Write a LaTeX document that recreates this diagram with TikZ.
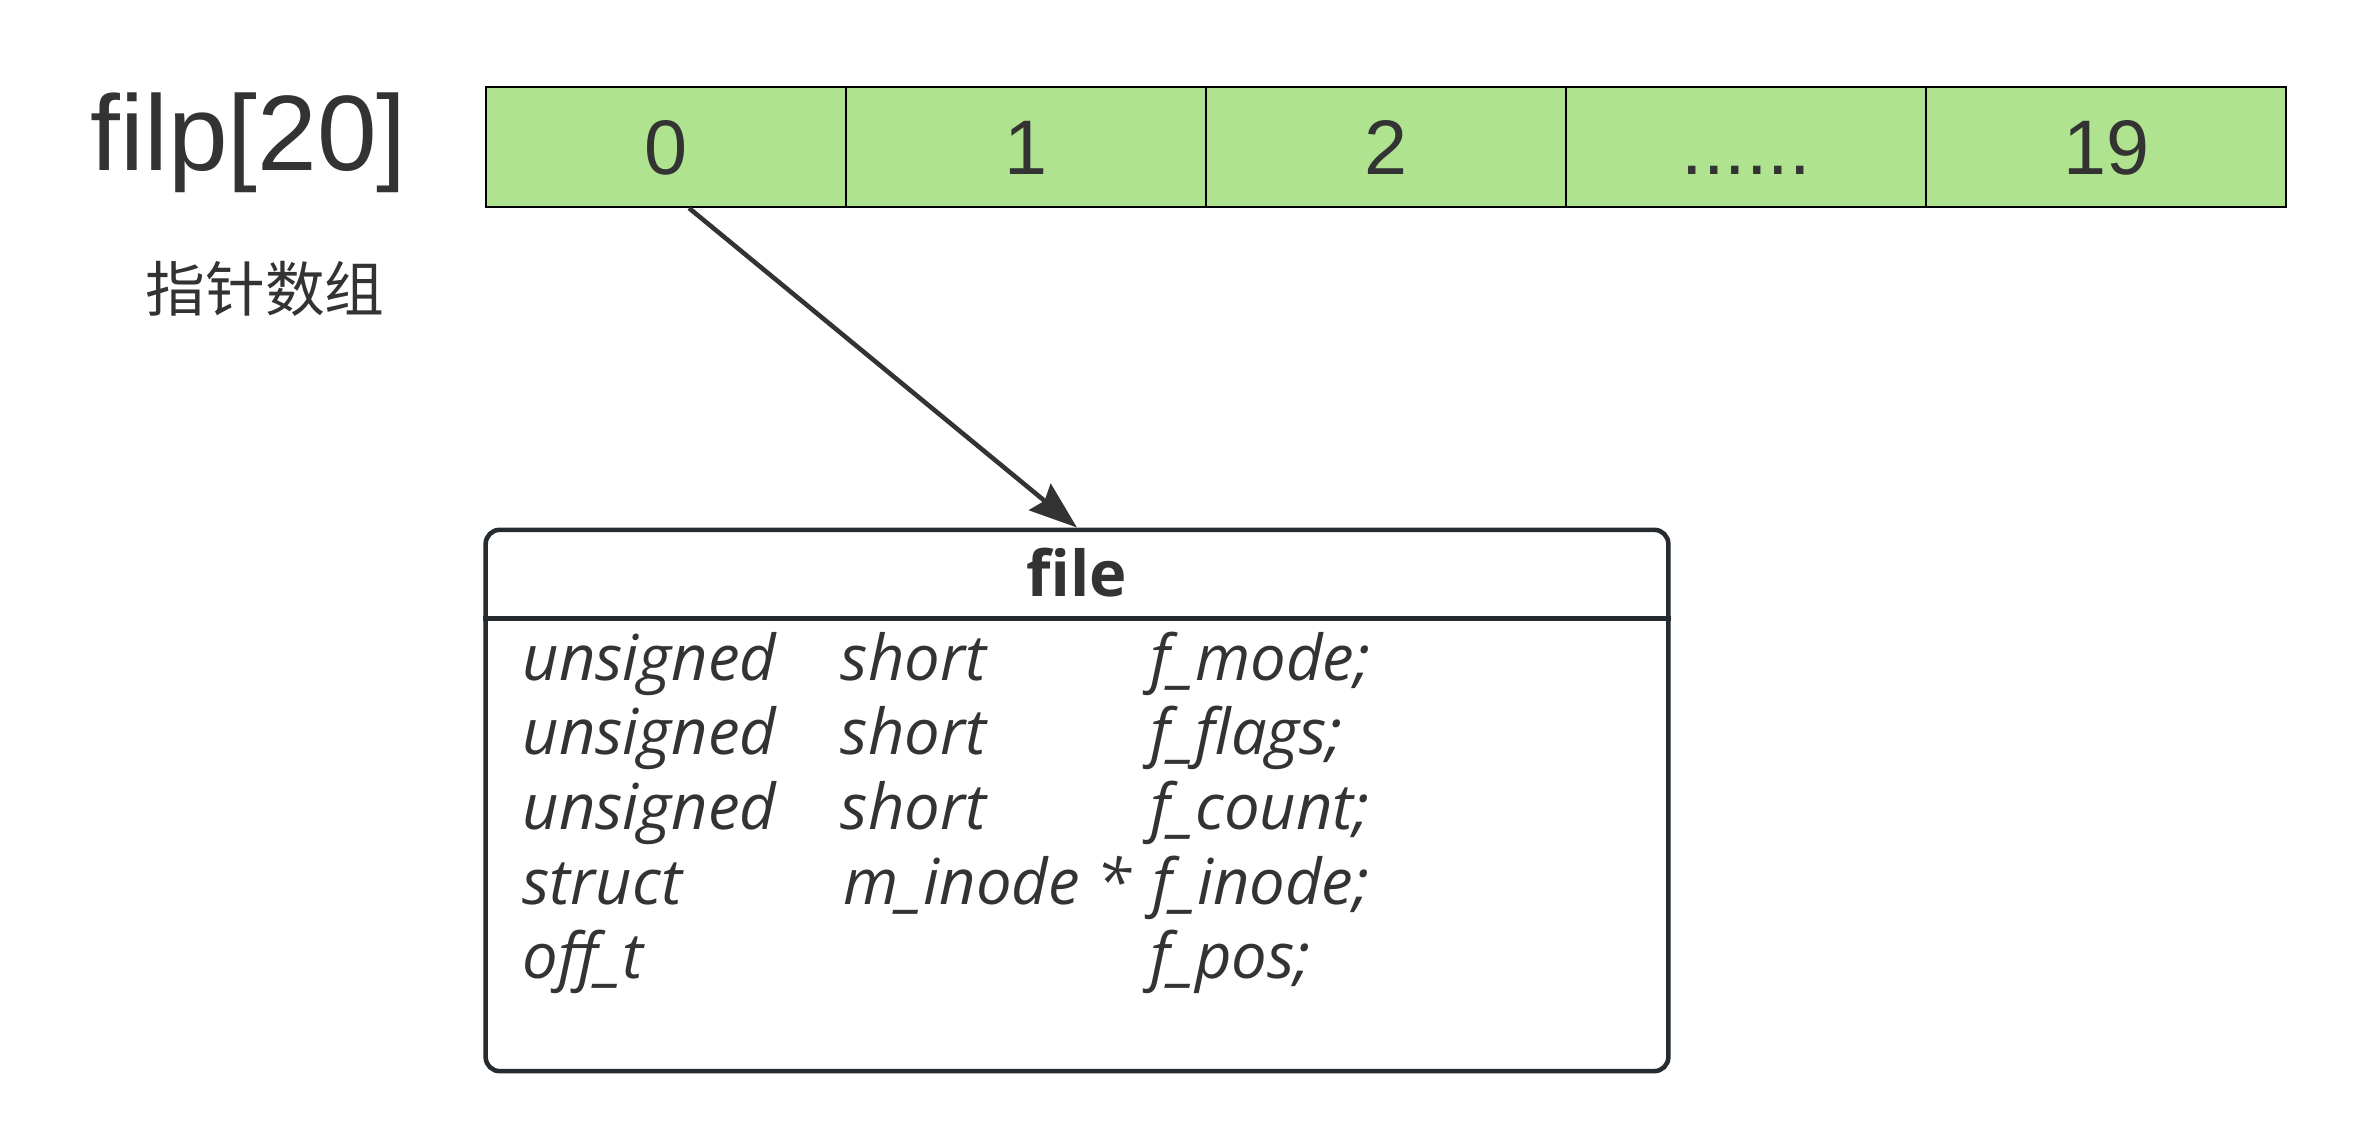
\documentclass[tikz,border=0pt]{standalone}
\usepackage{fontspec}
\usepackage{tikz}
\usetikzlibrary{arrows.meta}
\newfontfamily\arialfont{Liberation Sans}
\newfontfamily\uifont{Open Sans}
\newfontfamily\cjkfont{Noto Sans CJK SC}
\definecolor{cellgreen}{HTML}{B0E38F}
\definecolor{inkgray}{HTML}{333333}
\definecolor{boxline}{HTML}{262B30}
\begin{document}
\begin{tikzpicture}[x=0.01cm, y=-0.01cm,
	cell/.style = {draw=black, line width=0.6pt, fill=cellgreen, minimum width=3.6cm, minimum height=1.2cm, inner sep=0pt, text height=15.7pt, text depth=0pt, text=inkgray, font=\arialfont\fontsize{22}{24}\selectfont},
	member/.style = {anchor=base west, inner sep=0pt, text=inkgray, font=\uifont\itshape\fontsize{18}{20}\selectfont}]
	\useasboundingbox (0,0) rectangle (2361,1146);
	\node [anchor=base west, inner sep=0pt, text=inkgray, font=\arialfont\fontsize{30.5}{32}\selectfont] (filp) at (90,171) {filp[20]};
	\node [anchor=base, inner sep=0pt, text=inkgray, font=\cjkfont\fontsize{17}{20}\selectfont] (ptr) at (265,312) {指针数组};
	\node [cell] (c0) at (666,147) {0};
	\node [cell] (c1) at (1026,147) {1};
	\node [cell] (c2) at (1386,147) {2};
	\node [cell] (c3) at (1746,147) {......};
	\node [cell] (c19) at (2106,147) {19};
	\node [draw=boxline, line width=1.3pt, rounded corners=4pt, minimum width=11.82cm, minimum height=5.41cm, inner sep=0pt] (file) at (1077,800.5) {};
	\draw [boxline, line width=1.3pt] ([yshift=-0.91cm]file.north west) -- ([yshift=-0.91cm]file.north east);
	\node [anchor=base, inner sep=0pt, text=inkgray, font=\uifont\bfseries\fontsize{18}{20}\selectfont] (title) at (1077,596) {file};
	\node [member] (m1a) at (522,680) {unsigned};
	\node [member] (m1b) at (840,680) {short};
	\node [member] (m1c) at (1150,680) {f\_mode;};
	\node [member] (m2a) at (522,754.5) {unsigned};
	\node [member] (m2b) at (840,754.5) {short};
	\node [member] (m2c) at (1150,754.5) {f\_flags;};
	\node [member] (m3a) at (522,829) {unsigned};
	\node [member] (m3b) at (840,829) {short};
	\node [member] (m3c) at (1150,829) {f\_count;};
	\node [member] (m4a) at (522,904) {struct};
	\node [member] (m4b) at (843,904) {m\_inode *};
	\node [member] (m4c) at (1152,904) {f\_inode;};
	\node [member] (m5a) at (522,978) {off\_t};
	\node [member] (m5c) at (1150,978) {f\_pos;};
	\draw [-{Stealth[length=0.48cm, width=0.34cm, inset=0.06cm]}, inkgray, line width=1.3pt] ([xshift=0.23cm]c0.south) -- (file.north);
\end{tikzpicture}
\end{document}
